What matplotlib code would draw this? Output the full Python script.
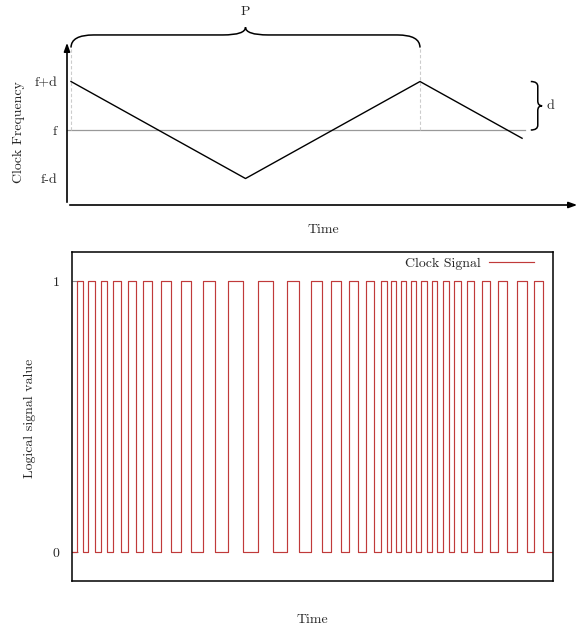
import numpy as np
import matplotlib
matplotlib.use('Agg')
import matplotlib.pyplot as plt
from matplotlib.path import Path
from matplotlib.patches import PathPatch

plt.rcParams['font.family'] = ['cmr10', 'DejaVu Serif']
plt.rcParams['font.size'] = 10
plt.rcParams['axes.unicode_minus'] = False

# top chart: triangular modulation of the clock frequency
mod_time = [0.0, 1.0, 2.0, 2.585]
mod_value = [1.0, -1.0, 1.0, -0.17]
freq_ticks = [1, 0, -1]
freq_labels = ['f+d', 'f', 'f-d']

# bottom chart: rising / falling edges of the clock signal (time 0..100)
rise = [0.98, 3.39, 5.97, 8.59, 11.70, 14.82, 18.50, 22.60, 27.17, 32.43,
        38.73, 44.64, 49.63, 53.85, 57.65, 61.12, 64.24, 66.26, 68.32, 70.42,
        72.49, 74.78, 77.07, 79.42, 82.18, 85.18, 88.63, 92.45, 96.05]
fall = [2.35, 4.78, 7.34, 10.19, 13.31, 16.57, 20.52, 24.74, 29.73, 35.55,
        41.85, 47.26, 51.91, 55.93, 59.52, 62.79, 65.49, 67.36, 69.44, 71.52,
        73.74, 75.95, 78.38, 80.87, 83.64, 86.90, 90.37, 94.53, 97.98]
t_end = 100.0

txt = '#262626'
W, H = 588, 630
fig = plt.figure(figsize=(W / 100, H / 100), dpi=100)


def brace_h(ax, x0, x1, y0, y1, y2, r):
    xm = (x0 + x1) / 2
    v = [(x0, y0), (x0, y1), (x0 + r, y1), (xm - r, y1), (xm, y1), (xm, y2),
         (xm, y1), (xm + r, y1), (x1 - r, y1), (x1, y1), (x1, y0)]
    c = [Path.MOVETO, Path.CURVE3, Path.CURVE3, Path.LINETO, Path.CURVE3, Path.CURVE3,
         Path.CURVE3, Path.CURVE3, Path.LINETO, Path.CURVE3, Path.CURVE3]
    ax.add_patch(PathPatch(Path(v, c), fill=False, lw=1.1, color='black', clip_on=False))


def brace_v(ax, y0, y1, x0, x1, x2, r):
    ym = (y0 + y1) / 2
    v = [(x0, y0), (x1, y0), (x1, y0 - r), (x1, ym + r), (x1, ym), (x2, ym),
         (x1, ym), (x1, ym - r), (x1, y1 + r), (x1, y1), (x0, y1)]
    c = [Path.MOVETO, Path.CURVE3, Path.CURVE3, Path.LINETO, Path.CURVE3, Path.CURVE3,
         Path.CURVE3, Path.CURVE3, Path.LINETO, Path.CURVE3, Path.CURVE3]
    ax.add_patch(PathPatch(Path(v, c), fill=False, lw=1.1, color='black', clip_on=False))


# ---- top chart
ax1 = fig.add_axes([67 / W, (H - 205) / H, (580 - 67) / W, (205 - 40) / H])
ax1.set_xlim(-0.023, 2.917)
ax1.set_ylim(-1.546, 1.856)
for s in ax1.spines.values():
    s.set_visible(False)
ax1.annotate('', xy=(0, 1), xytext=(0, 0), xycoords='axes fraction',
             arrowprops=dict(arrowstyle='-|>,head_length=0.5,head_width=0.18', lw=1.2, color='black'))
ax1.annotate('', xy=(1, 0), xytext=(0, 0), xycoords='axes fraction',
             arrowprops=dict(arrowstyle='-|>,head_length=0.5,head_width=0.18', lw=1.2, color='black'))
ax1.plot([-0.023, 2.6], [0, 0], color='#999999', lw=0.9)
ax1.plot([0, 0], [0, 1.69], color='#cccccc', lw=0.8, ls=(0, (3, 2)))
ax1.plot([2, 2], [0, 1.69], color='#cccccc', lw=0.8, ls=(0, (3, 2)))
ax1.plot(mod_time, mod_value, color='black', lw=1.0)
ax1.set_yticks(freq_ticks)
ax1.set_yticklabels(freq_labels, color=txt)
ax1.set_xticks([])
ax1.tick_params(axis='y', length=0, pad=7)
brace_h(ax1, 0, 2, 1.70, 1.96, 2.12, 0.13)
ax1.text(1.0, 2.43, 'P', ha='center', va='center', color=txt, clip_on=False)
brace_v(ax1, 1.0, 0.0, 2.635, 2.675, 2.70, 0.1)
ax1.text(2.725, 0.5, 'd', ha='left', va='center', color=txt, clip_on=False)
fig.text(19 / W, 1 - 132 / H, 'Clock Frequency', rotation=90, ha='center', va='center', color=txt)
fig.text(323 / W, 1 - 230 / H, 'Time', ha='center', va='center', color=txt)

# ---- bottom chart
ax2 = fig.add_axes([72 / W, (H - 581) / H, (553 - 72) / W, (581 - 252) / H])
edges = [0.0]
levels = [0]
for r, f in zip(rise, fall):
    edges += [r, f]
    levels += [1, 0]
edges.append(t_end)
levels.append(0)
ax2.step(edges, levels, where='post', color='#c03a3a', lw=0.85, label='Clock Signal')
ax2.set_xlim(0, t_end)
ax2.set_ylim(-0.107, 1.107)
ax2.set_xticks([])
ax2.set_yticks([0, 1])
ax2.set_yticklabels(['0', '1'], color=txt)
ax2.tick_params(axis='y', direction='in', length=4, color='#888888', pad=9)
for s in ax2.spines.values():
    s.set_linewidth(1.1)
ax2.legend(loc='upper right', bbox_to_anchor=(0.96, 0.985), frameon=False,
           markerfirst=False, handlelength=3.2, handletextpad=0.6, borderaxespad=0,
           borderpad=0, labelcolor=txt)
fig.text(30 / W, 1 - 418 / H, 'Logical signal value', rotation=90, ha='center', va='center', color=txt)
fig.text(312 / W, 1 - 620 / H, 'Time', ha='center', va='center', color=txt)

plt.savefig('out.png', dpi=100)
